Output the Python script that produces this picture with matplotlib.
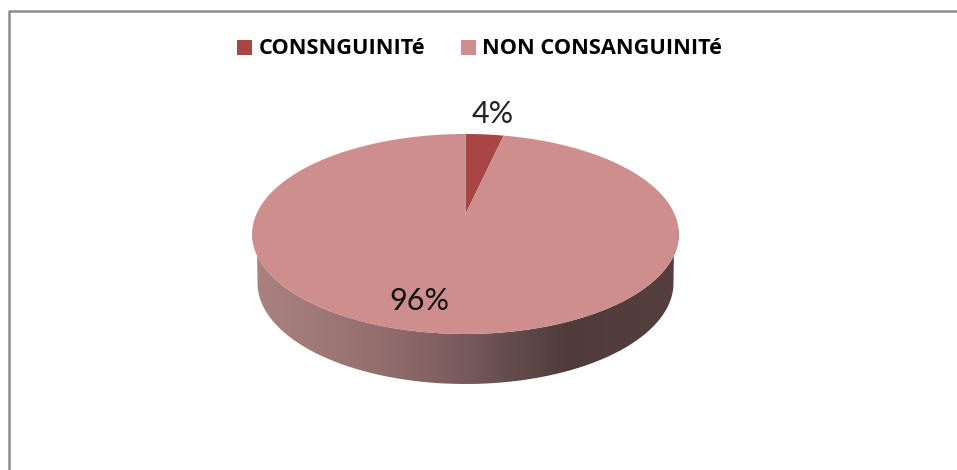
import numpy as np
import matplotlib
matplotlib.use("Agg")
import matplotlib.pyplot as plt
from matplotlib.patches import Polygon, Rectangle
from matplotlib.path import Path
from matplotlib.patches import PathPatch
from matplotlib.colors import LinearSegmentedColormap

categories = ["CONSNGUINITé", "NON CONSANGUINITé"]
shares = [3.5, 96.5]
share_labels = ["4%", "96%"]
colors = ["#A84646", "#CE8E8E"]

# pixel layout of the reference
apex_x, apex_y = 465.5, 214
half_w = 209
persp_a, persp_k = 96, 0.2


def project(theta):
    # unit circle seen in perspective, so the apex sits above the ellipse centre
    X, Y = np.cos(theta), np.sin(theta)
    d = 1 + persp_k * Y
    return apex_x + half_w * X / d, apex_y - persp_a * Y / d


def slice_points(start, end):
    t = np.linspace(start, end, 300)
    x, y = project(t)
    return np.column_stack([np.r_[apex_x, x], np.r_[apex_y, y]])


fig = plt.figure(figsize=(9.57, 4.70), dpi=100)
ax = fig.add_axes([0, 0, 1, 1])
ax.set_xlim(0, 957)
ax.set_ylim(470, 0)
ax.axis("off")

# chart frame, only top and left are inside the crop
ax.plot([9, 9, 957], [470, 11, 11], color="#8C8C8C", lw=1.8)

# side of the disc
t = np.linspace(np.pi, 2 * np.pi, 300)
top_x, top_y = project(t)
low_x = 465.5 + 208 * np.cos(t)
low_y = 283 - 101 * np.sin(t)
outline = np.r_[np.column_stack([top_x, top_y]), np.column_stack([low_x, low_y])[::-1]]
cmap = LinearSegmentedColormap.from_list(
    "side", [(0, "#AB8282"), (0.3, "#946E6E"), (0.5, "#785A5A"), (0.62, "#624A4A"),
             (0.74, "#503B3B"), (1, "#563E3E")])
im = ax.imshow(np.linspace(0, 1, 256)[None, :], extent=[252, 679, 390, 230],
               cmap=cmap, aspect="auto", zorder=2)
im.set_clip_path(PathPatch(Path(outline), transform=ax.transData))
ax.set_xlim(0, 957)
ax.set_ylim(470, 0)

# slices, starting at twelve o'clock and going clockwise
start = np.pi / 2
for share, col in zip(shares, colors):
    end = start - 2 * np.pi * share / sum(shares)
    ax.add_patch(Polygon(slice_points(start, end), closed=True, fc=col, ec="none", zorder=3))
    start = end

# data labels
ax.text(493, 114, share_labels[0], fontsize=22, family="Lato", color="#222222",
        ha="center", va="center", zorder=4)
ax.text(419, 301, share_labels[1], fontsize=22, family="Lato", color="#111111",
        ha="center", va="center", zorder=4)

# legend
ax.add_patch(Rectangle((237, 40), 15, 15, fc=colors[0], ec="none"))
ax.add_patch(Rectangle((461, 40), 15, 15, fc=colors[1], ec="none"))
ax.text(259, 48, categories[0], fontsize=15.7, family="Open Sans", weight="bold", va="center", color="black")
ax.text(482, 48, categories[1], fontsize=15.7, family="Open Sans", weight="bold", va="center", color="black")

fig.savefig("out.png", dpi=100)
